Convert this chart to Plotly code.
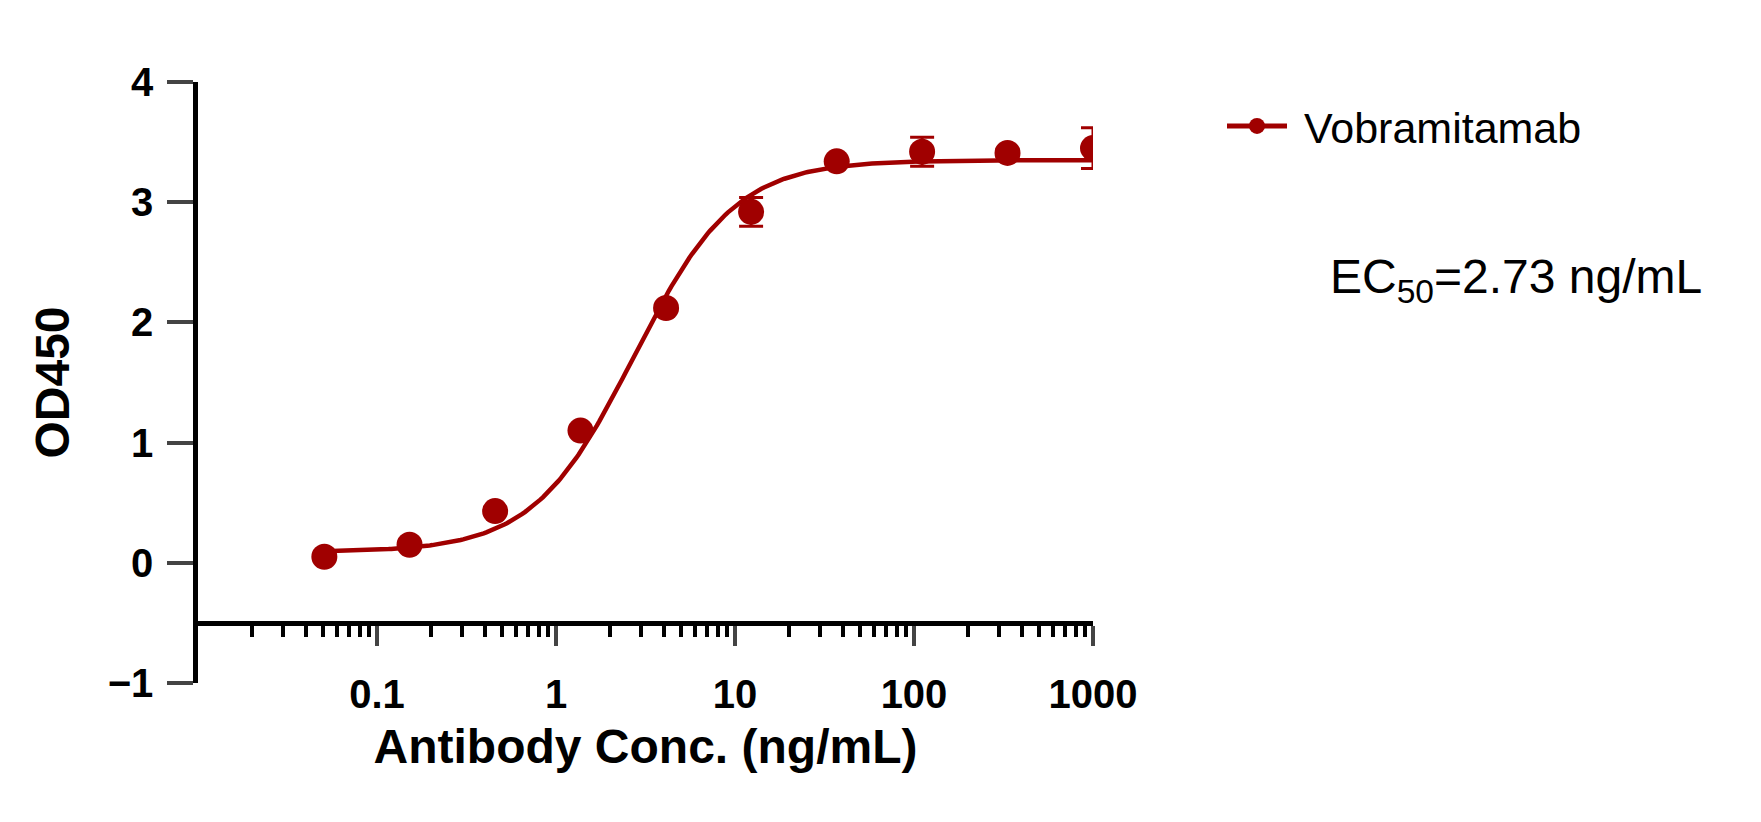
import numpy as np
import plotly.graph_objects as go

conc = [0.0508, 0.152, 0.457, 1.37, 4.12, 12.3, 37.0, 111.0, 333.0, 1000.0]
od = [0.05, 0.15, 0.43, 1.10, 2.12, 2.92, 3.34, 3.42, 3.41, 3.45]
err = [0.02, 0.02, 0.02, 0.02, 0.02, 0.12, 0.02, 0.12, 0.03, 0.17]
x_ticks = [0.1, 1, 10, 100, 1000]
x_ticklabels = ["0.1", "1", "10", "100", "1000"]
y_ticks = [-1, 0, 1, 2, 3, 4]
series = "Vobramitamab"
ec50 = 2.73
bottom, top, hill = 0.09, 3.35, 1.55

color = "#A00000"
xc = np.logspace(np.log10(conc[0]), 3, 300)
yc = bottom + (top - bottom) / (1 + (ec50 / xc) ** hill)

minor_vals = [m * 10.0 ** e for e in range(-2, 3) for m in range(2, 10)]

W, H = 1761, 822
L, R, T, B = 190, 676, 74, 147
pw, ph = W - L - R, H - T - B
FONT = "Liberation Sans, Arial"

fig = go.Figure()
fig.add_trace(go.Scatter(x=xc, y=yc, mode="lines", line=dict(color=color, width=4.5),
                         showlegend=False, hoverinfo="skip"))
fig.add_trace(go.Scatter(x=conc, y=od, mode="markers",
                         marker=dict(color=color, size=26),
                         error_y=dict(type="data", array=err, color=color, thickness=3, width=12),
                         showlegend=False))
fig.add_trace(go.Scatter(x=[None], y=[None], mode="lines+markers", name=" " + series,
                         line=dict(color=color, width=5), marker=dict(color=color, size=26)))

fig.add_annotation(x=(1320 - L) / pw, y=1 - (272 - T) / ph, xref="paper", yref="paper",
                   text="EC<sub>50</sub>=2.73 ng/mL",
                   showarrow=False, xanchor="left", yanchor="middle",
                   font=dict(family=FONT, size=48, color="black"))

fig.update_layout(
    width=W, height=H, margin=dict(l=L, r=R, t=T, b=B),
    plot_bgcolor="white", paper_bgcolor="white",
    font=dict(family=FONT, color="black"),
    legend=dict(x=(1214 - L) / pw, y=1 - (118 - T) / ph, xanchor="left", yanchor="middle",
                font=dict(size=43, family=FONT), bgcolor="rgba(0,0,0,0)",
                itemwidth=60),
    xaxis=dict(type="log", range=[-2, 3], anchor="free", position=0.1,
               tickvals=x_ticks, ticktext=x_ticklabels, ticks="outside", ticklen=20, tickwidth=3.5,
               showline=True, linewidth=4.5, linecolor="black", showgrid=False, zeroline=False,
               ticklabelstandoff=14,
               tickfont=dict(size=40, family=FONT, weight="bold"),
               minor=dict(tickvals=minor_vals, ticks="outside", ticklen=11, tickwidth=3.5, tickcolor="black"),
               title=dict(text="<b>Antibody Conc. (ng/mL)</b>", font=dict(size=48), standoff=14)),
    yaxis=dict(range=[-1, 4], tickvals=y_ticks, ticks="outside", ticklen=26, tickwidth=3.5,
               showline=True, linewidth=4.5, linecolor="black", showgrid=False, zeroline=False,
               ticklabelstandoff=6,
               tickfont=dict(size=40, family=FONT, weight="bold"),
               title=dict(text="<b>OD450</b>", font=dict(size=48), standoff=24)),
)
fig.write_html("out.html")
